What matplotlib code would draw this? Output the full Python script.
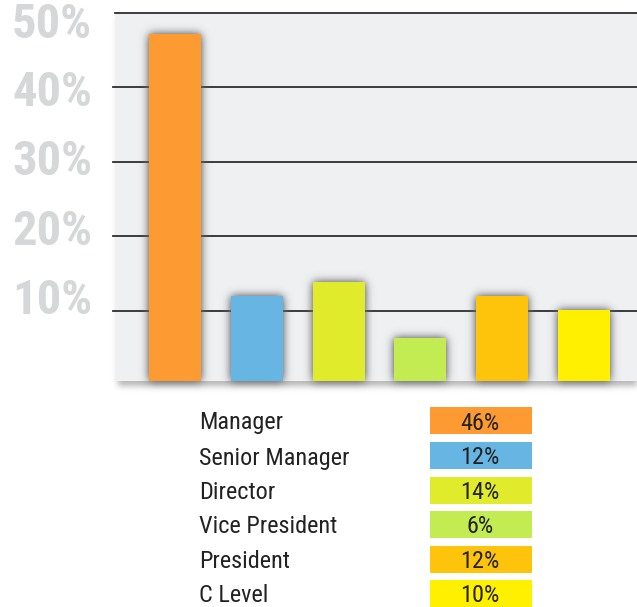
import numpy as np
import matplotlib
matplotlib.use("Agg")
import matplotlib.pyplot as plt
from matplotlib.patches import Rectangle

# ---------------- data ----------------
categories = ["Manager", "Senior Manager", "Director", "Vice President", "President", "C Level"]
bar_values = [47.2, 12.0, 13.9, 6.3, 12.0, 10.1]          # heights as drawn
table_labels = ["46%", "12%", "14%", "6%", "12%", "10%"]   # values printed in the table
colors = ["#fd9a32", "#66b5e3", "#e0eb2b", "#c2ec52", "#fec40b", "#fff000"]
tick_values = [10, 20, 30, 40, 50]
tick_labels = ["10%", "20%", "30%", "40%", "50%"]

FONT = ["Roboto Condensed", "DejaVu Sans"]

W, H = 637, 607
fig = plt.figure(figsize=(W / 100, H / 100), dpi=100)
fig.patch.set_facecolor("white")

def px(x0, y0, x1, y1):
    return [x0 / W, 1 - y1 / H, (x1 - x0) / W, (y1 - y0) / H]


def gblur(a, sigma):
    r = int(3 * sigma)
    k = np.exp(-0.5 * (np.arange(-r, r + 1) / sigma) ** 2)
    k /= k.sum()
    a = np.apply_along_axis(lambda v: np.convolve(v, k, mode="same"), 0, a)
    a = np.apply_along_axis(lambda v: np.convolve(v, k, mode="same"), 1, a)
    return a


class Shadow:
    def __init__(self, sigma, alpha, dx=0, dy=0, gray=0.35):
        self.sigma, self.alpha, self.dx, self.dy, self.gray = sigma, alpha, dx, dy, gray

    def __call__(self, im, dpi):
        pad = int(3 * self.sigma) + 4
        a = np.pad(im[:, :, 3], pad)
        b = gblur(a, self.sigma) * self.alpha
        out = np.zeros(b.shape + (4,))
        out[..., :3] = self.gray
        out[..., 3] = np.clip(b, 0, 1)
        return out, -pad + self.dx, -pad - self.dy


# panel shadow (below the plot area)
panel_box = px(115, 13, 637, 381)
sh = Rectangle((panel_box[0] + 3 / W, panel_box[1] - 5 / H), panel_box[2], panel_box[3],
               transform=fig.transFigure, facecolor="black", edgecolor="none", zorder=0)
sh.set_agg_filter(Shadow(3.0, 0.4, gray=0.3))
fig.add_artist(sh)

ax = fig.add_axes(panel_box)
ax.set_facecolor("#eff0f2")
ax.set_zorder(1)

x = np.arange(len(categories))
pitch = 81.8
left_idx = -(175 - 115) / pitch
right_idx = left_idx + (637 - 115) / pitch
ax.set_xlim(left_idx, right_idx)
ax.set_ylim(0.55, 50)

# gridlines
for v in tick_values:
    ax.axhline(v, color="#2e2e30", lw=1.3, zorder=1, clip_on=False,
               xmin=-0.004 if v != 50 else 0)

bw = 52 / pitch
# bar shadows
shadow_bars = ax.bar(x, bar_values, width=bw, color="black", zorder=2)
for b in shadow_bars:
    b.set_agg_filter(Shadow(4.5, 1.35, gray=0.42))
ax.bar(x, bar_values, width=bw, color=colors, zorder=3)

for s in ax.spines.values():
    s.set_visible(False)
ax.set_xticks([])
ax.set_yticks([])

# y labels
label_y = [301, 232, 162, 93, 25]
for lab, yy in zip(tick_labels, label_y):
    fig.text(92 / W, 1 - yy / H, lab, ha="right", va="center",
             fontsize=35, fontweight="bold", color="#d6d7d9", family=FONT)

# table
row_y = [420.5, 455.5, 490, 524, 559, 593]
for cat, lab, col, yy in zip(categories, table_labels, colors, row_y):
    fig.text(199 / W, 1 - yy / H, cat, ha="left", va="center_baseline",
             fontsize=17.5, color="#222222", family=FONT)
    r = Rectangle((430 / W, 1 - (yy + 13.5) / H), 102 / W, 27 / H,
                  transform=fig.transFigure, facecolor=col, edgecolor="none")
    fig.add_artist(r)
    fig.text(480 / W, 1 - yy / H, lab, ha="center", va="center_baseline",
             fontsize=17.5, color="#222222", family=FONT)

fig.savefig("out.png", dpi=100, facecolor="white")
